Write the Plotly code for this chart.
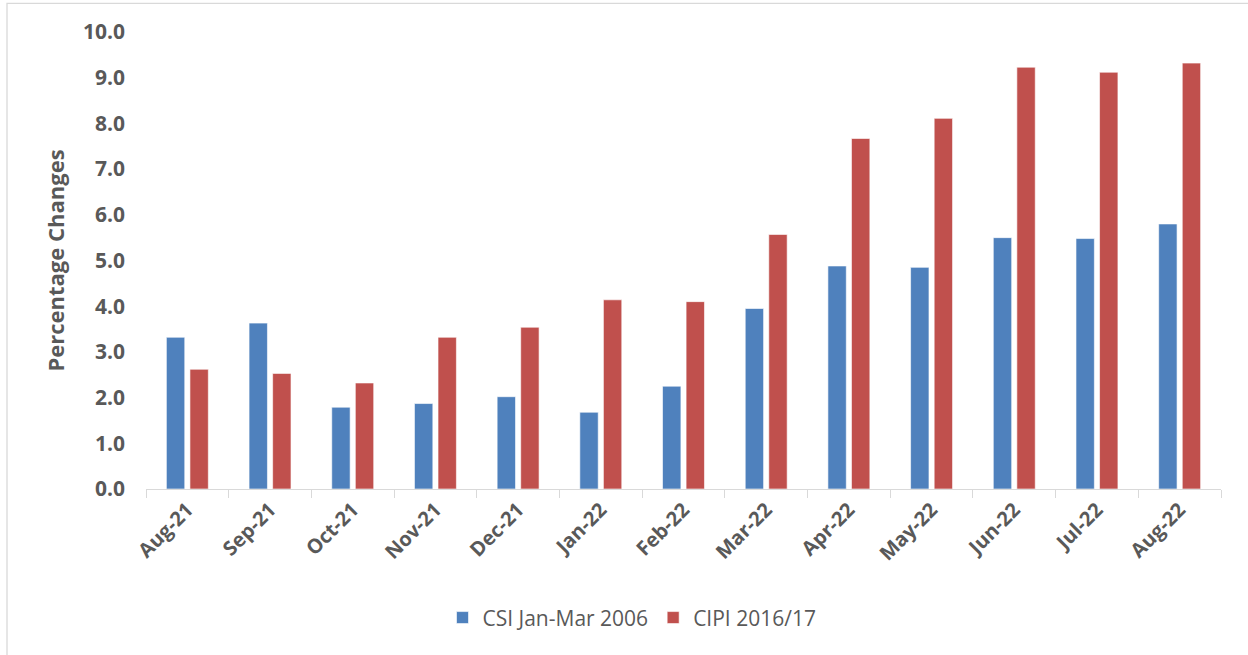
import plotly.graph_objects as go

months = ["Aug-21", "Sep-21", "Oct-21", "Nov-21", "Dec-21", "Jan-22", "Feb-22",
          "Mar-22", "Apr-22", "May-22", "Jun-22", "Jul-22", "Aug-22"]
csi = [3.32, 3.63, 1.79, 1.87, 2.02, 1.68, 2.25, 3.95, 4.88, 4.85, 5.50, 5.48, 5.80]
cipi = [2.62, 2.53, 2.32, 3.32, 3.54, 4.14, 4.10, 5.57, 7.67, 8.11, 9.23, 9.12, 9.32]
series_names = ["CSI Jan-Mar 2006", "CIPI 2016/17"]
y_ticks = [0, 1, 2, 3, 4, 5, 6, 7, 8, 9, 10]

FONT = "Open Sans, Noto Sans, sans-serif"
TXT = "#595959"
GRID = "#D9D9D9"

W, H = 1248, 655
L, R, T, B = 146, 27, 31.7, 166
pw = W - L - R
ph = H - T - B

fig = go.Figure()
fig.add_trace(go.Bar(x=months, y=csi, name=series_names[0],
                     marker=dict(color="#4F81BD", line=dict(color="rgba(255,255,255,0.6)", width=1))))
fig.add_trace(go.Bar(x=months, y=cipi, name=series_names[1],
                     marker=dict(color="#C0504D", line=dict(color="rgba(255,255,255,0.6)", width=1))))

def px_x(x):
    return (x - L) / pw

def px_y(y):
    return (H - B - y) / ph

fig.add_shape(type="rect", xref="paper", yref="paper",
              x0=px_x(7), x1=px_x(1252), y0=px_y(659), y1=px_y(3),
              line=dict(color=GRID, width=1.3), fillcolor="rgba(0,0,0,0)", layer="below")

fig.update_layout(
    width=W, height=H,
    margin=dict(l=L, r=R, t=T, b=B, autoexpand=False),
    paper_bgcolor="white", plot_bgcolor="white",
    barmode="group", bargap=0.43, bargroupgap=0.22,
    font=dict(family=FONT, color=TXT, size=21),
    showlegend=True,
    legend=dict(orientation="h", x=px_x(632), xanchor="center",
                y=px_y(618), yanchor="middle",
                font=dict(family=FONT, size=21, color=TXT),
                itemclick=False, traceorder="normal"),
    xaxis=dict(
        type="category",
        showline=True, linecolor=GRID, linewidth=1.3,
        ticks="outside", tickson="boundaries", ticklen=8, tickcolor=GRID, tickwidth=1.3,
        tickangle=-45,
        tickfont=dict(family=FONT, size=20, color=TXT, weight="bold"),
        showgrid=False, zeroline=False,
    ),
    yaxis=dict(
        range=[0, 10],
        tickvals=y_ticks, tickformat=".1f",
        showline=False, showgrid=False, zeroline=False,
        ticks="", ticklabelstandoff=20,
        tickfont=dict(family=FONT, size=21, color=TXT, weight="bold"),
        title=dict(text="Percentage Changes", standoff=12,
                   font=dict(family=FONT, size=22, color=TXT, weight="bold")),
    ),
)

fig.write_html("out.html", config={"displayModeBar": False},
               post_script="document.body.style.margin='0';document.body.style.overflow='hidden';")
